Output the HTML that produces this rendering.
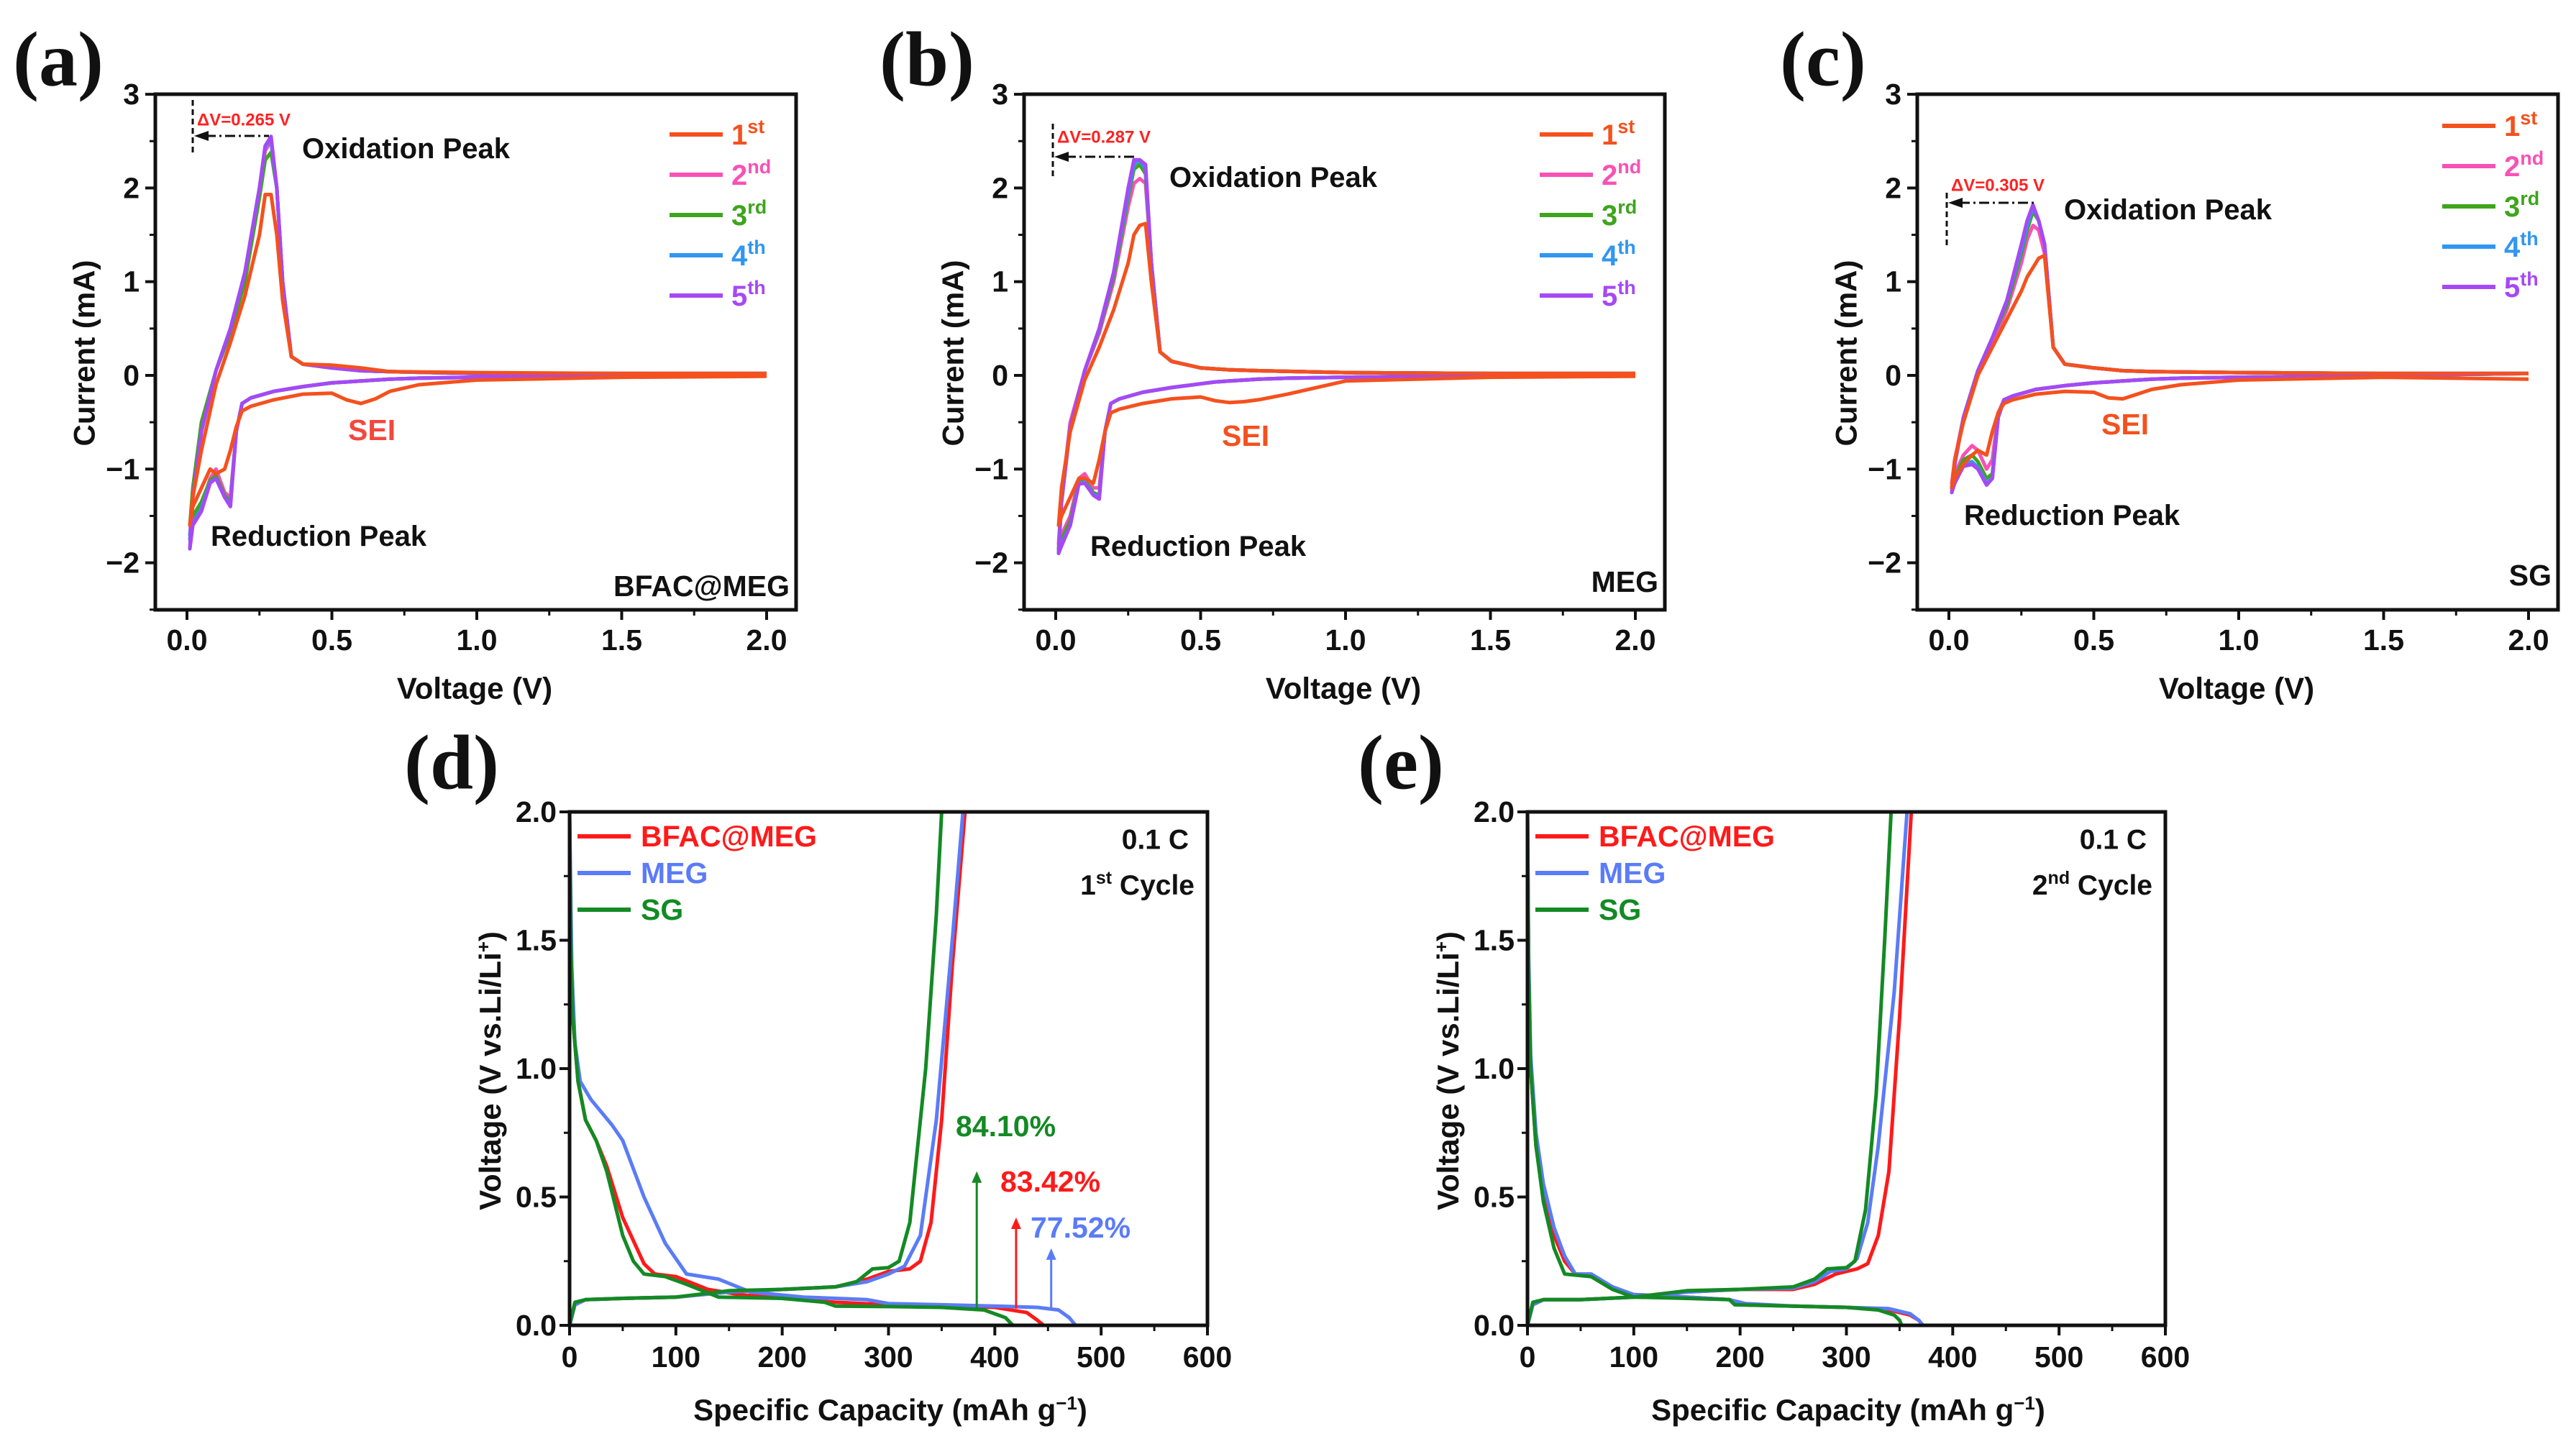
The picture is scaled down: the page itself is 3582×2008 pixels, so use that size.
<!DOCTYPE html>
<html><head><meta charset="utf-8"><style>
html,body{margin:0;padding:0;background:#fff;}
svg{display:block;font-family:"Liberation Sans",Arial,sans-serif;}
</style></head><body>
<svg id="fig" width="3582" height="2008" viewBox="0 0 3582 2008" xmlns="http://www.w3.org/2000/svg"></svg>
<script>
// ---------- CV data (shared voltage grid: cathodic sweep 2.0->0.01, then anodic 0.01->2.0) ----------
const cvV = [2.0,1.5,1.0,0.8,0.7,0.65,0.6,0.55,0.5,0.4,0.3,0.22,0.19,0.17,0.15,0.13,0.1,0.08,0.05,0.02,0.01,
             0.02,0.05,0.1,0.15,0.2,0.25,0.27,0.29,0.31,0.33,0.36,0.4,0.5,0.6,0.7,1.0,1.5,2.0];
// Panel a (BFAC@MEG)
const aC1 = [-0.01,-0.02,-0.05,-0.1,-0.17,-0.25,-0.3,-0.26,-0.19,-0.2,-0.26,-0.33,-0.38,-0.55,-0.8,-1.0,-1.05,-1.0,-1.2,-1.4,-1.6,
             -1.3,-0.8,-0.1,0.35,0.85,1.5,1.93,1.93,1.5,0.8,0.2,0.12,0.11,0.08,0.04,0.03,0.02,0.02];
const aC2 = [0.02,0.0,-0.02,-0.03,-0.04,-0.05,-0.06,-0.07,-0.08,-0.12,-0.17,-0.24,-0.3,-0.6,-1.3,-1.25,-1.0,-1.1,-1.4,-1.55,-1.7,
             -1.3,-0.6,0.05,0.5,1.1,2.0,2.4,2.5,2.0,1.0,0.2,0.12,0.08,0.05,0.04,0.02,0.02,0.02];
const aC3 = [0.02,0.0,-0.02,-0.03,-0.04,-0.05,-0.06,-0.07,-0.08,-0.12,-0.17,-0.24,-0.3,-0.6,-1.35,-1.28,-1.07,-1.12,-1.35,-1.5,-1.6,
             -1.2,-0.5,0.05,0.45,1.0,1.9,2.3,2.38,2.0,1.0,0.2,0.12,0.08,0.05,0.04,0.02,0.02,0.02];
const aC4 = [0.02,0.0,-0.02,-0.03,-0.04,-0.05,-0.06,-0.07,-0.08,-0.12,-0.17,-0.24,-0.3,-0.6,-1.38,-1.3,-1.1,-1.14,-1.42,-1.58,-1.75,
             -1.3,-0.6,0.05,0.5,1.1,2.0,2.45,2.5,2.0,1.0,0.2,0.12,0.08,0.05,0.04,0.02,0.02,0.02];
const aC5 = [0.02,0.0,-0.02,-0.03,-0.04,-0.05,-0.06,-0.07,-0.08,-0.12,-0.17,-0.24,-0.3,-0.6,-1.4,-1.3,-1.1,-1.15,-1.45,-1.6,-1.85,
             -1.3,-0.6,0.05,0.5,1.1,2.0,2.45,2.55,2.0,1.0,0.2,0.12,0.08,0.05,0.04,0.02,0.02,0.02];
// Panel b (MEG)
const bC1 = [-0.01,-0.02,-0.06,-0.2,-0.26,-0.28,-0.29,-0.27,-0.23,-0.25,-0.3,-0.36,-0.4,-0.6,-0.9,-1.15,-1.1,-1.1,-1.3,-1.5,-1.6,
             -1.2,-0.6,-0.05,0.3,0.7,1.2,1.5,1.6,1.62,1.0,0.25,0.15,0.08,0.06,0.05,0.03,0.02,0.02];
const bC2 = [0.02,0.0,-0.02,-0.03,-0.04,-0.05,-0.06,-0.07,-0.09,-0.13,-0.18,-0.25,-0.3,-0.6,-1.2,-1.2,-1.05,-1.1,-1.5,-1.7,-1.8,
             -1.3,-0.5,0.05,0.45,1.0,1.8,2.05,2.1,2.05,1.2,0.25,0.15,0.08,0.06,0.05,0.03,0.02,0.02];
const bC3 = [0.02,0.0,-0.02,-0.03,-0.04,-0.05,-0.06,-0.07,-0.09,-0.13,-0.18,-0.25,-0.3,-0.6,-1.28,-1.25,-1.12,-1.14,-1.55,-1.75,-1.85,
             -1.35,-0.55,0.05,0.48,1.05,1.9,2.2,2.25,2.15,1.2,0.25,0.15,0.08,0.06,0.05,0.03,0.02,0.02];
const bC4 = [0.02,0.0,-0.02,-0.03,-0.04,-0.05,-0.06,-0.07,-0.09,-0.13,-0.18,-0.25,-0.3,-0.6,-1.3,-1.27,-1.14,-1.15,-1.6,-1.8,-1.88,
             -1.35,-0.55,0.05,0.5,1.1,1.95,2.25,2.3,2.2,1.2,0.25,0.15,0.08,0.06,0.05,0.03,0.02,0.02];
const bC5 = [0.02,0.0,-0.02,-0.03,-0.04,-0.05,-0.06,-0.07,-0.09,-0.13,-0.18,-0.25,-0.3,-0.6,-1.32,-1.28,-1.15,-1.16,-1.6,-1.82,-1.9,
             -1.35,-0.55,0.05,0.5,1.1,2.0,2.3,2.3,2.25,1.2,0.25,0.15,0.08,0.06,0.05,0.03,0.02,0.02];
// Panel c (SG)
const cC1 = [-0.04,-0.02,-0.05,-0.1,-0.15,-0.2,-0.25,-0.24,-0.18,-0.17,-0.2,-0.26,-0.3,-0.4,-0.6,-0.85,-0.8,-0.85,-0.95,-1.1,-1.2,
             -0.9,-0.5,0.0,0.3,0.6,0.9,1.05,1.15,1.25,1.28,0.3,0.12,0.08,0.05,0.04,0.03,0.02,0.02];
const cC2 = [0.02,0.0,-0.02,-0.03,-0.04,-0.05,-0.06,-0.07,-0.08,-0.11,-0.15,-0.22,-0.26,-0.4,-0.9,-1.0,-0.8,-0.75,-0.85,-1.05,-1.15,
             -0.9,-0.45,0.05,0.35,0.7,1.2,1.45,1.6,1.55,1.3,0.3,0.12,0.08,0.05,0.04,0.03,0.02,0.02];
const cC3 = [0.02,0.0,-0.02,-0.03,-0.04,-0.05,-0.06,-0.07,-0.08,-0.11,-0.15,-0.22,-0.26,-0.45,-1.05,-1.1,-0.92,-0.85,-0.9,-1.1,-1.2,
             -0.95,-0.45,0.05,0.4,0.75,1.3,1.55,1.75,1.65,1.4,0.3,0.12,0.08,0.05,0.04,0.03,0.02,0.02];
const cC4 = [0.02,0.0,-0.02,-0.03,-0.04,-0.05,-0.06,-0.07,-0.08,-0.11,-0.15,-0.22,-0.26,-0.45,-1.1,-1.15,-0.98,-0.92,-0.95,-1.15,-1.22,
             -0.95,-0.45,0.05,0.4,0.8,1.35,1.6,1.8,1.65,1.4,0.3,0.12,0.08,0.05,0.04,0.03,0.02,0.02];
const cC5 = [0.02,0.0,-0.02,-0.03,-0.04,-0.05,-0.06,-0.07,-0.08,-0.11,-0.15,-0.22,-0.26,-0.45,-1.1,-1.17,-1.0,-0.95,-0.97,-1.15,-1.25,
             -0.95,-0.45,0.05,0.4,0.8,1.4,1.65,1.82,1.65,1.4,0.3,0.12,0.08,0.05,0.04,0.03,0.02,0.02];
const cvXTicks = [0,0.5,1.0,1.5,2.0];
const cvXTickLabels = ["0.0","0.5","1.0","1.5","2.0"];
const cvYTicks = [-2,-1,0,1,2,3];
const cvYTickLabels = ["\u22122","\u22121","0","1","2","3"];
const cycleNames = ["1st","2nd","3rd","4th","5th"];

// ---------- GCD data ----------
const dRedDisCap = [0,1,3,8,15,25,35,50,70,80,100,130,160,200,250,300,350,400,430,440,446];
const dRedDisV   = [2.0,1.5,1.2,0.95,0.8,0.72,0.62,0.42,0.24,0.2,0.19,0.14,0.12,0.105,0.09,0.08,0.077,0.07,0.05,0.02,0];
const dRedChCap  = [0,5,15,50,100,150,200,250,280,300,320,330,340,350,360,372];
const dRedChV    = [0,0.08,0.1,0.105,0.11,0.13,0.14,0.15,0.18,0.21,0.22,0.25,0.4,0.8,1.4,2.0];
const dBluDisCap = [0,2,5,10,20,40,50,70,90,110,140,170,220,280,300,350,400,440,460,470,476];
const dBluDisV   = [2.0,1.4,1.1,0.95,0.88,0.78,0.72,0.5,0.32,0.2,0.18,0.13,0.11,0.1,0.085,0.08,0.075,0.07,0.06,0.03,0];
const dBluChCap  = [0,5,15,50,100,150,200,250,280,300,315,330,345,360,370];
const dBluChV    = [0,0.08,0.1,0.105,0.11,0.13,0.14,0.15,0.17,0.2,0.23,0.35,0.8,1.5,2.0];
const dGrnDisCap = [0,1,3,8,15,25,35,50,60,70,90,110,140,200,240,250,300,350,390,410,417];
const dGrnDisV   = [2.0,1.5,1.2,0.95,0.8,0.72,0.6,0.35,0.25,0.2,0.19,0.16,0.11,0.105,0.09,0.075,0.073,0.07,0.06,0.03,0];
const dGrnChCap  = [0,5,15,50,100,150,200,250,270,285,300,310,320,335,345,350];
const dGrnChV    = [0,0.09,0.1,0.105,0.11,0.135,0.14,0.15,0.17,0.22,0.225,0.25,0.4,1.0,1.6,2.0];

const eRedDisCap = [0,1,3,8,15,25,35,45,60,80,100,150,190,200,250,300,340,360,368,372];
const eRedDisV   = [2.0,1.4,1.0,0.7,0.5,0.35,0.25,0.2,0.19,0.14,0.12,0.11,0.1,0.08,0.075,0.07,0.06,0.04,0.02,0];
const eRedChCap  = [0,5,15,50,100,150,200,250,270,290,310,320,330,340,350,361];
const eRedChV    = [0,0.08,0.1,0.1,0.11,0.13,0.14,0.14,0.16,0.2,0.22,0.24,0.35,0.6,1.2,2.0];
const eBluDisCap = [0,1,3,8,15,25,35,45,60,80,100,150,190,205,250,300,340,360,368,372];
const eBluDisV   = [2.0,1.45,1.05,0.75,0.55,0.38,0.27,0.2,0.2,0.15,0.12,0.11,0.1,0.085,0.075,0.07,0.065,0.045,0.02,0];
const eBluChCap  = [0,5,15,50,100,150,200,250,270,285,300,310,320,330,345,357];
const eBluChV    = [0,0.08,0.1,0.1,0.11,0.13,0.14,0.145,0.17,0.21,0.22,0.26,0.4,0.7,1.3,2.0];
const eGrnDisCap = [0,1,3,8,15,25,35,60,80,100,150,190,195,250,300,330,345,350,352];
const eGrnDisV   = [2.0,1.4,1.0,0.7,0.48,0.3,0.2,0.19,0.14,0.11,0.105,0.1,0.08,0.075,0.07,0.06,0.04,0.02,0];
const eGrnChCap  = [0,5,15,50,100,150,200,250,270,282,300,308,318,328,336,342];
const eGrnChV    = [0,0.09,0.1,0.1,0.11,0.135,0.14,0.15,0.18,0.22,0.225,0.25,0.45,0.9,1.5,2.0];
const gcdXTicks = [0,100,200,300,400,500,600];
const gcdYTicks = [0,0.5,1.0,1.5,2.0];
const gcdYTickLabels = ["0.0","0.5","1.0","1.5","2.0"];
const effLabels = ["84.10%","83.42%","77.52%"];
const effCap = [383,420,453];
const effTop = [0.6,0.42,0.3];

const NS="http://www.w3.org/2000/svg";
const svg=document.getElementById('fig');
function mk(tag,attrs,parent){const e=document.createElementNS(NS,tag);for(const k in attrs)e.setAttribute(k,attrs[k]);(parent||svg).appendChild(e);return e;}
function txt(s,x,y,size,fill,anchor,parent,extra){const t=mk('text',Object.assign({x:x,y:y,'font-size':size,'font-weight':'bold',fill:fill||'#111','text-anchor':anchor||'start','dominant-baseline':'central'},extra||{}),parent);t.textContent=s;return t;}
function scale(d0,d1,p0,p1){return v=>p0+(v-d0)*(p1-p0)/(d1-d0);}
function pathD(xs,ys,sx,sy){let d='';for(let i=0;i<xs.length;i++)d+=(i?'L':'M')+sx(xs[i]).toFixed(1)+','+sy(ys[i]).toFixed(1);return d;}

function frame(g,L,T,R,B){
  const r=mk('rect',{x:L,y:T,width:R-L,height:B-T,fill:'none',stroke:'#111','stroke-width':5},g);
  
  
}

// ---------- CV panels ----------
const cvColors=['#f4511e','#f752b5','#3ea51d','#3196f0','#a649f5'];
function cvPanel(off,letter,sets,cfg){
  const g=mk('g',{});
  
  
  const L=216+off,R=1107+off,T=131,B=848;
  const sx=scale(0,2,260+off,1066+off), sy=scale(0,1,522,391.7);
  const pl=txt('('+letter+')',18+(cfg.letterDx||0)+off,83,108,'#111','start',g,{'font-family':'Liberation Serif, serif'});
  
  
  cvXTicks.forEach((v,i)=>{
    mk('line',{x1:sx(v),x2:sx(v),y1:B,y2:B+14,stroke:'#111','stroke-width':4},g);
    const mv=v+0.25; if(mv<2.1) mk('line',{x1:sx(mv),x2:sx(mv),y1:B,y2:B+8,stroke:'#111','stroke-width':3},g);
    const t=txt(cvXTickLabels[i],sx(v),890,41,'#111','middle',g);
    
    
  });
  cvYTicks.forEach((v,i)=>{
    mk('line',{x1:L-14,x2:L,y1:sy(v),y2:sy(v),stroke:'#111','stroke-width':4},g);
    const mv=v-0.5; if(mv>=-2.5) mk('line',{x1:L-8,x2:L,y1:sy(mv),y2:sy(mv),stroke:'#111','stroke-width':3},g);
    const t=txt(cvYTickLabels[i],L-22,sy(v),41,'#111','end',g);
    
    
  });
  const order=[1,2,3,4,0];
  order.forEach(k=>{
    const p=mk('path',{d:pathD(cvV,sets[k],sx,sy),fill:'none',stroke:cvColors[k],'stroke-width':5,'stroke-linejoin':'round'},g);
    
    
  });
  frame(g,L,T,R,B);
  cycleNames.forEach((n,i)=>{
    const y=cfg.legY+i*56;
    mk('line',{x1:cfg.legX+off,x2:cfg.legX+74+off,y1:y,y2:y,stroke:cvColors[i],'stroke-width':6},g);
    const t=mk('text',{x:cfg.legX+86+off,y:y+14,'font-size':40,'font-weight':'bold',fill:cvColors[i]},g);
    
    
    const m=n.match(/(\d)(\w+)/);
    t.innerHTML=m[1]+'<tspan dy="-16" font-size="27">'+m[2]+'</tspan>';
  });
  const a1=txt('Oxidation Peak',cfg.ox[0]+off,cfg.ox[1],40,'#111','start',g);  
  const a2=txt('Reduction Peak',cfg.red[0]+off,cfg.red[1],40,'#111','start',g);  
  const a3=txt('SEI',cfg.sei[0]+off,cfg.sei[1],41,cfg.seiColor,'start',g);  
  const a4=txt(cfg.name,1098+off,cfg.nameY,41,'#111','end',g);  
  const dv=cfg.dv;
  mk('line',{x1:dv.x,x2:dv.x,y1:dv.y0,y2:dv.y1,stroke:'#111','stroke-width':3,'stroke-dasharray':'8,5'},g);
  mk('line',{x1:dv.x+18,x2:dv.x2,y1:dv.ya,y2:dv.ya,stroke:'#111','stroke-width':3,'stroke-dasharray':'14,5,3,5'},g);
  mk('path',{d:`M${dv.x+2},${dv.ya}l20,-7v14z`,fill:'#111'},g);
  const a5=txt(dv.label,dv.x+6,dv.yl,24,'#f22','start',g);  
  const xt=txt('Voltage (V)',660+off,957,42,'#111','middle',g);  
  const yt=txt('Current (mA)',0,0,42,'#111','middle',g,{transform:`translate(${117+off},491) rotate(-90)`});  
}
cvPanel(0,'a',[aC1,aC2,aC3,aC4,aC5],{legX:931,legY:187,ox:[420,207],red:[293,746],sei:[484,598],seiColor:'#f4473d',name:'BFAC@MEG',nameY:815,
  dv:{x:268,y0:139,y1:214,ya:189,x2:374,yl:167,label:'\u0394V=0.265 V'}});
cvPanel(1208,'b',[bC1,bC2,bC3,bC4,bC5],{letterDx:-3,legX:933,legY:187,ox:[418,247],red:[308,760],sei:[491,606],seiColor:'#f4511e',name:'MEG',nameY:809,
  dv:{x:1464,y0:172,y1:245,ya:218,x2:1582,yl:191,label:'\u0394V=0.287 V'}});
cvPanel(2450,'c',[cC1,cC2,cC3,cC4,cC5],{letterDx:7,legX:946,legY:175,ox:[420,292],red:[281,717],sei:[472,590],seiColor:'#f4511e',name:'SG',nameY:800,
  dv:{x:2707,y0:268,y1:341,ya:282,x2:2828,yl:258,label:'\u0394V=0.305 V'}});

// ---------- GCD panels ----------
const gcdColors={red:'#ff1a1a',blue:'#5b7cf7',green:'#138a24'};
function gcdPanel(off,letter,curves,cycleSup,withEff){
  const g=mk('g',{});
  
  
  const L=792+off,R=1679+off,T=1129,B=1843;
  const sx=scale(0,600,L,R), sy=scale(0,2,B,T);
  const pl=txt('('+letter+')',562+off+(letter==='e'?-6:0),1061,108,'#111','start',g,{'font-family':'Liberation Serif, serif'});
  
  
  gcdXTicks.forEach(v=>{
    mk('line',{x1:sx(v),x2:sx(v),y1:B,y2:B+14,stroke:'#111','stroke-width':4},g);
    if(v<600) mk('line',{x1:sx(v+50),x2:sx(v+50),y1:B,y2:B+8,stroke:'#111','stroke-width':3},g);
    const t=txt(String(v),sx(v),1887,41,'#111','middle',g);
    
    
  });
  gcdYTicks.forEach((v,i)=>{
    mk('line',{x1:L-14,x2:L,y1:sy(v),y2:sy(v),stroke:'#111','stroke-width':4},g);
    if(v<2) mk('line',{x1:L-8,x2:L,y1:sy(v+0.25),y2:sy(v+0.25),stroke:'#111','stroke-width':3},g);
    const t=txt(gcdYTickLabels[i],L-18,sy(v),41,'#111','end',g);
    
    
  });
  curves.forEach(c=>{
    const p1=mk('path',{d:pathD(c.dc,c.dv,sx,sy),fill:'none',stroke:gcdColors[c.col],'stroke-width':5,'stroke-linejoin':'round'},g);
    
    
    const p2=mk('path',{d:pathD(c.cc,c.cv,sx,sy),fill:'none',stroke:gcdColors[c.col],'stroke-width':5,'stroke-linejoin':'round'},g);
    
    
  });
  if(withEff){
    const ec=['green','red','blue'], ly=[1566,1643,1707], lx=[1329,1391,1433];
    effLabels.forEach((s,i)=>{
      const x=sx(effCap[i]);
      mk('line',{x1:x,x2:x,y1:sy(0.065),y2:sy(effTop[i])+14,stroke:gcdColors[ec[i]],'stroke-width':3},g);
      mk('path',{d:`M${x-7},${sy(effTop[i])+16}L${x},${sy(effTop[i])}L${x+7},${sy(effTop[i])+16}z`,fill:gcdColors[ec[i]]},g);
      const t=txt(s,lx[i],ly[i],41,gcdColors[ec[i]],'start',g);
      
      
    });
  }
  frame(g,L,T,R,B);
  const legY=[1163,1214,1265];
  curves.forEach((c,i)=>{
    mk('line',{x1:803+off,x2:877+off,y1:legY[i],y2:legY[i],stroke:gcdColors[c.col],'stroke-width':6},g);
    const t=txt(c.name,891+off,legY[i],41,gcdColors[c.col],'start',g);
    
    
  });
  const r1=txt('0.1 C',1653+off,1168,39,'#111','end',g);  
  const r2=mk('text',{x:1661+off,y:1244,'font-size':39,'font-weight':'bold',fill:'#111','text-anchor':'end'},g);
   
  r2.innerHTML=cycleSup[0]+'<tspan dy="-15" font-size="25">'+cycleSup[1]+'</tspan><tspan dy="15"> Cycle</tspan>';
  const xt=mk('text',{x:1238+off,y:1975,'font-size':42,'font-weight':'bold',fill:'#111','text-anchor':'middle'},g);
   
  xt.innerHTML='Specific Capacity (mAh g<tspan dy="-15" font-size="26">\u22121</tspan><tspan dy="15">)</tspan>';
  const yt=mk('text',{x:0,y:14,'font-size':42,'font-weight':'bold',fill:'#111','text-anchor':'middle',transform:`translate(${682+off},1489) rotate(-90)`},g);
   
  yt.innerHTML='Voltage (V vs.Li/Li<tspan dy="-15" font-size="26">+</tspan><tspan dy="15">)</tspan>';
}
gcdPanel(0,'d',[
  {name:'BFAC@MEG',col:'red',dc:dRedDisCap,dv:dRedDisV,cc:dRedChCap,cv:dRedChV},
  {name:'MEG',col:'blue',dc:dBluDisCap,dv:dBluDisV,cc:dBluChCap,cv:dBluChV},
  {name:'SG',col:'green',dc:dGrnDisCap,dv:dGrnDisV,cc:dGrnChCap,cv:dGrnChV}],['1','st'],true);
gcdPanel(1332,'e',[
  {name:'BFAC@MEG',col:'red',dc:eRedDisCap,dv:eRedDisV,cc:eRedChCap,cv:eRedChV},
  {name:'MEG',col:'blue',dc:eBluDisCap,dv:eBluDisV,cc:eBluChCap,cv:eBluChV},
  {name:'SG',col:'green',dc:eGrnDisCap,dv:eGrnDisV,cc:eGrnChCap,cv:eGrnChV}],['2','nd'],false);
</script>
</body></html>
